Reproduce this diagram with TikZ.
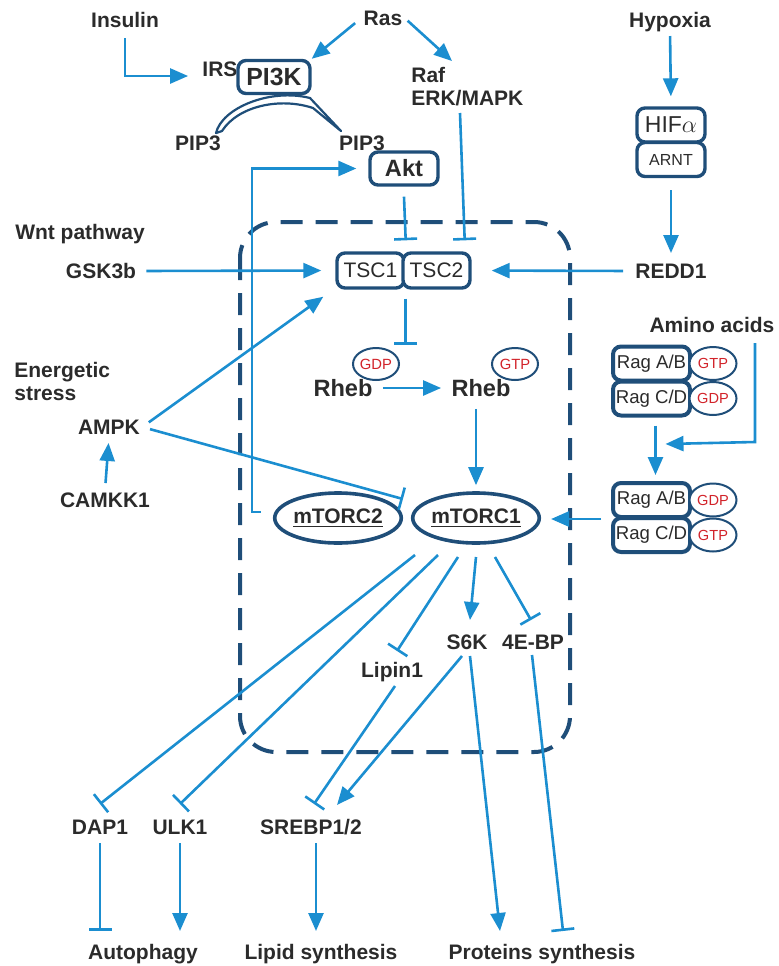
\documentclass[tikz,border=0pt]{standalone}
\usepackage{fontspec}
\setmainfont{Liberation Sans}
\usetikzlibrary{arrows.meta,calc,shapes.geometric}
\definecolor{lb}{HTML}{1B8ED0}
\definecolor{nv}{HTML}{1F4E79}
\definecolor{tx}{HTML}{2B2B2B}
\definecolor{rd}{HTML}{D2232A}
\tikzset{
 lbl/.style={font=\fontsize{10.5}{12}\selectfont\bfseries, text=tx, inner sep=1pt, text height=7.6pt, text depth=0pt},
 box/.style={draw=nv, line width=1.7pt, rounded corners=4pt, fill=white, text=tx, inner sep=0pt, font=\fontsize{10.5}{12}\selectfont},
 tscbox/.style={box, minimum width=33.5pt, minimum height=17.5pt},
 hifbox/.style={box, minimum width=34pt, minimum height=17pt},
 ragbox/.style={box, line width=2pt, minimum width=38.5pt, minimum height=17pt, font=\fontsize{9.3}{11}\selectfont},
 nuc/.style={ellipse, draw=nv, line width=1pt, fill=white, inner sep=0pt, text=rd},
 rnuc/.style={nuc, minimum width=23.5pt, minimum height=16.5pt, font=\fontsize{7.3}{8}\selectfont},
 mt/.style={ellipse, draw=nv, line width=1.8pt, minimum width=56pt, minimum height=25pt, inner sep=0pt, font=\fontsize{10.5}{12}\selectfont\bfseries, text=tx},
 rheb/.style={lbl, font=\fontsize{11.8}{14}\selectfont\bfseries, text height=8.5pt},
 arr/.style={draw=lb, line width=1.3pt, -{Triangle[length=9pt, width=7.5pt]}},
 inh/.style={draw=lb, line width=1.3pt, -{Bar[width=11.5pt, line width=1.3pt]}}
}
\begin{document}
\begin{tikzpicture}[x=0.5pt,y=-0.5pt]
\useasboundingbox (0,0) rectangle (779,966);
% dashed cell region
\draw[nv, line width=2pt, dash pattern=on 11pt off 6.5pt, rounded corners=18pt] (240,222) rectangle (570,752);

% ---------- nodes ----------
\node[lbl] (insulin) at (125,20) {Insulin};
\node[lbl] (ras) at (383,18) {Ras};
\node[lbl] (hypoxia) at (670,20) {Hypoxia};
\node[lbl] (irs) at (220,69) {IRS};
\node[box, minimum width=36pt, minimum height=16.5pt, font=\fontsize{12.4}{14}\selectfont\bfseries] (pi3k) at (274,77) {PI3K};
\node[lbl, anchor=west] (raf) at (409,75) {Raf};
\node[lbl, anchor=west] (erk) at (409,98) {ERK/MAPK};
\node[lbl] (pipL) at (198,143) {PIP3};
\node[lbl] (pipR) at (362,143) {PIP3};
\node[box, minimum width=34pt, minimum height=16.5pt, font=\fontsize{11.8}{14}\selectfont\bfseries] (akt) at (404,168.5) {Akt};
\node[hifbox, font=\fontsize{11.5}{13}\selectfont] (hif) at (671,125) {HIF$\alpha$};
\node[hifbox, font=\fontsize{8}{10}\selectfont] (arnt) at (671,159.5) {ARNT};
\node[lbl] (wnt) at (80,232) {Wnt pathway};
\node[lbl] (gsk) at (101,271) {GSK3b};
\node[tscbox] (tsc1) at (370.5,270.5) {TSC1};
\node[tscbox] (tsc2) at (436.5,270.5) {TSC2};
\node[lbl] (redd) at (671,271) {REDD1};
\node[lbl, anchor=west] (energetic) at (12,370) {Energetic};
\node[lbl, anchor=west] (stress) at (12,393) {stress};
\node[lbl] (ampk) at (109,427) {AMPK};
\node[lbl] (camkk) at (105,500) {CAMKK1};
\node[nuc, minimum width=23pt, minimum height=16pt, font=\fontsize{7.4}{9}\selectfont] (gdp) at (376,364) {GDP};
\node[rheb] (rhebA) at (343,388) {Rheb};
\node[rheb] (rhebB) at (481,388) {Rheb};
\node[nuc, minimum width=23pt, minimum height=16pt, font=\fontsize{7.4}{9}\selectfont] (gtp) at (515,364) {GTP};
\node[lbl] (amino) at (712,325) {Amino acids};
\node[ragbox] (ragAB1) at (651.5,363.5) {Rag A/B};
\node[ragbox] (ragCD1) at (651.5,398.5) {Rag C/D};
\node[rnuc] (gtp1) at (713,363.5) {GTP};
\node[rnuc] (gdp1) at (713,398.5) {GDP};
\node[ragbox] (ragAB2) at (651.5,500) {Rag A/B};
\node[ragbox] (ragCD2) at (651.5,535) {Rag C/D};
\node[rnuc] (gdp2) at (713,500) {GDP};
\node[rnuc] (gtp2) at (713,535) {GTP};
\node[mt] (mtorc2) at (338,518) {\underline{mTORC2}};
\node[mt] (mtorc1) at (476,518) {\underline{mTORC1}};
\node[lbl] (s6k) at (467,642) {S6K};
\node[lbl] (ebp) at (533,642) {4E-BP};
\node[lbl] (lipin) at (392,670) {Lipin1};
\node[lbl] (dap) at (100,827) {DAP1};
\node[lbl] (ulk) at (180,827) {ULK1};
\node[lbl] (srebp) at (311,827) {SREBP1/2};
\node[lbl] (autophagy) at (143,952) {Autophagy};
\node[lbl] (lipid) at (321,952) {Lipid synthesis};
\node[lbl] (proteins) at (542,952) {Proteins synthesis};

% PIP3 -> PIP3 hollow curved arrow
\draw[nv, line width=1.1pt, fill=white, line join=round] (216,133) .. controls (222,108) and (270,88) .. (310,98) -- (341,131) -- (313,108) .. controls (280,97) and (238,106) .. (222,131) -- cycle;

% ---------- connectors ----------
\draw[arr, shorten <=4pt, shorten >=6pt] (insulin.south) |- ([yshift=-3.5pt]irs.west);
\draw[arr, shorten <=4pt] (ras.west) -- (pi3k.north east);
\draw[arr, shorten <=2pt] (ras.east) -- ($(raf.north west)+(43,-4)$);
\draw[inh] ($(erk.south west)+(51,5)$) -- ($(tsc2.north east)+(-7,-11)$);
\draw[inh] ($(akt.south)+(0,10)$) -- ($(tsc1.north east)+(0,-11)$);
\coordinate (bend) at (252,340);
\draw[arr, shorten >=6pt] ($(mtorc2.west)+(-12,-6)$) -| (bend) |- (akt.west);
\draw[arr, shorten <=3pt, shorten >=5pt] (hypoxia.south) -- (hif.north);
\draw[arr, shorten <=6pt, shorten >=4pt] (arnt.south) -- (redd.north);
\draw[arr, shorten <=5pt, shorten >=10pt] (redd.west) -- (tsc2.east);
\draw[arr, shorten <=4pt, shorten >=7pt] (gsk.east) -- (tsc1.west);
\draw[arr, shorten <=4pt] (ampk.east) -- ($(tsc1.south west)+(-12,7)$);
\draw[inh, shorten <=4pt] (ampk.east) -- ($(mtorc1.west)+(-8,-19)$);
\draw[arr, shorten <=3.5pt, shorten >=3pt] (camkk.north) -- (ampk.south);
\draw[inh] ($(tsc1.south east)+(0,9)$) -- ($(tsc1.south east)+(0,55)$);
\draw[arr, shorten <=4pt, shorten >=4pt] (rhebA.east) -- (rhebB.west);
\draw[arr, shorten <=5pt, shorten >=3pt] (mtorc1.north |- rhebB.south) -- (mtorc1.north);
\coordinate (aa) at (755,442);
\draw[arr, shorten <=4pt] (amino.south -| aa) -- (aa) -- ($(ragCD1.south)+(14,26.5)$);
\draw[arr, shorten <=4pt, shorten >=3pt] ([xshift=2pt]ragCD1.south) -- ([xshift=2pt]ragAB2.north);
\draw[arr, shorten >=5pt] ([xshift=-5pt]ragAB2.south west) -- (mtorc1.east |- ragAB2.south west);
% mTORC1 outputs
\draw[inh] ($(mtorc1.center)+(-61,37)$) -- ($(dap.north)+(0,-13)$);
\draw[inh] ($(mtorc1.center)+(-38,37)$) -- ($(ulk.north)+(0,-13)$);
\draw[inh] ($(mtorc1.center)+(-18,39)$) -- ($(lipin.north)+(5,-9)$);
\draw[arr] ($(mtorc1.center)+(0,39)$) -- ($(s6k.north)+(3,-12)$);
\draw[inh] ($(mtorc1.center)+(19,39)$) -- ($(ebp.north)+(-2,-12)$);
\draw[arr] ($(s6k.south)+(3,4)$) -- ($(proteins.north)+(-42,-11)$);
\draw[inh] ($(ebp.south)+(-1,3)$) -- ($(proteins.north)+(21,-11)$);
\draw[arr] ($(s6k.south)+(-5,4)$) -- ($(srebp.north)+(26,-12)$);
\draw[inh] ($(lipin.south)+(3,6)$) -- ($(srebp.north)+(3,-13)$);
\draw[inh] ($(dap.south)+(0,6)$) -- ($(autophagy.north)+(-43,-11)$);
\draw[arr] ($(ulk.south)+(0,6)$) -- ($(autophagy.north)+(37,-11)$);
\draw[arr] ($(srebp.south)+(5,6)$) -- ($(lipid.north)+(-5,-11)$);
\end{tikzpicture}
\end{document}
